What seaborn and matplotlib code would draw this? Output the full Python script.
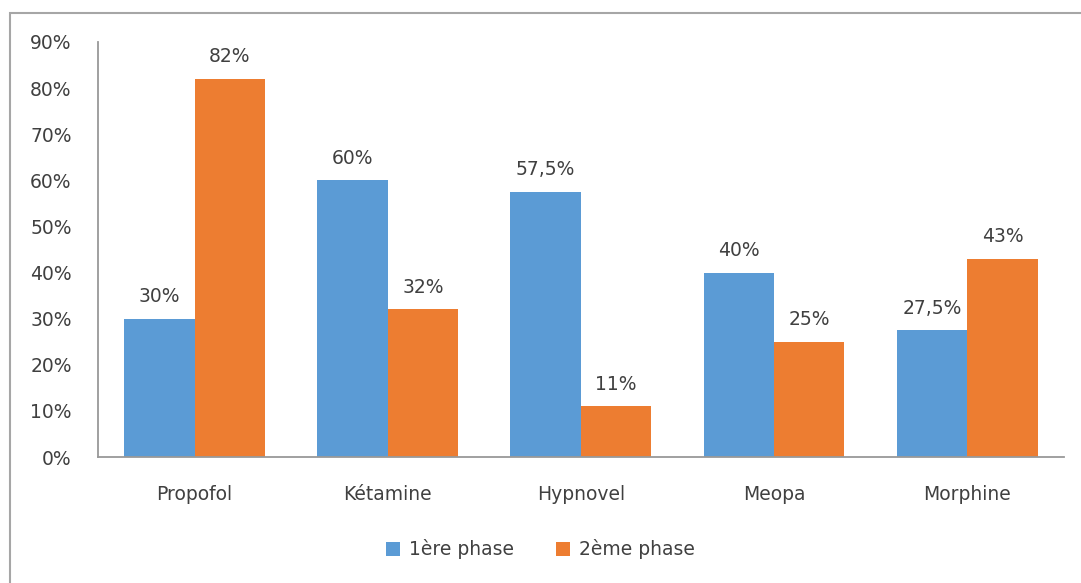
import matplotlib
matplotlib.use("Agg")
import matplotlib.pyplot as plt
from matplotlib.patches import Rectangle
import pandas as pd
import seaborn as sns

categories = ["Propofol", "Kétamine", "Hypnovel", "Meopa", "Morphine"]
phase1 = [30, 60, 57.5, 40, 27.5]
phase2 = [82, 32, 11, 25, 43]
phase1_labels = ["30%", "60%", "57,5%", "40%", "27,5%"]
phase2_labels = ["82%", "32%", "11%", "25%", "43%"]
series = ["1ère phase", "2ème phase"]
yticks = [0, 10, 20, 30, 40, 50, 60, 70, 80, 90]

df = pd.DataFrame({
    "cat": categories * 2,
    "val": phase1 + phase2,
    "phase": [series[0]] * len(categories) + [series[1]] * len(categories),
})

sns.set_style("white")
plt.rcParams["font.family"] = ["DejaVu Sans"]
text_color = "#404040"
fs = 13.5

fig = plt.figure(figsize=(10.81, 5.83), dpi=100)
ax = fig.add_axes([0.0907, 0.216, 0.8933, 0.712])

sns.barplot(data=df, x="cat", y="val", hue="phase",
            palette=["#5B9BD5", "#ED7D31"], width=0.73,
            saturation=1, linewidth=0, ax=ax, legend=True)

for cont, labs in zip(ax.containers, [phase1_labels, phase2_labels]):
    ax.bar_label(cont, labels=labs, padding=9, fontsize=fs, color=text_color)

ax.set_ylim(0, 90)
ax.set_xlim(-0.5, 4.5)
ax.set_yticks(yticks)
ax.set_yticklabels([f"{t}%" for t in yticks])
ax.set_xlabel("")
ax.set_ylabel("")
ax.tick_params(axis="both", length=0, labelsize=fs, colors=text_color)
ax.tick_params(axis="y", pad=19)
ax.tick_params(axis="x", pad=20)

for s in ["top", "right"]:
    ax.spines[s].set_visible(False)
for s in ["left", "bottom"]:
    ax.spines[s].set_color("#999999")
    ax.spines[s].set_linewidth(1.3)

handles, labels = ax.get_legend_handles_labels()
ax.legend(handles, labels, loc="center", bbox_to_anchor=(0.5, 0.058),
          bbox_transform=fig.transFigure, ncol=2, frameon=False,
          fontsize=fs, handlelength=0.75, handleheight=0.75,
          handletextpad=0.5, columnspacing=2.2, labelcolor=text_color)

# outer chart border
fig.patches.append(Rectangle((10 / 1081, -0.05), 1.2, 1 - 13 / 583 + 0.05,
                             transform=fig.transFigure, fill=False,
                             edgecolor="#A6A6A6", linewidth=1.5, clip_on=False))

fig.savefig("out.png", dpi=100)
